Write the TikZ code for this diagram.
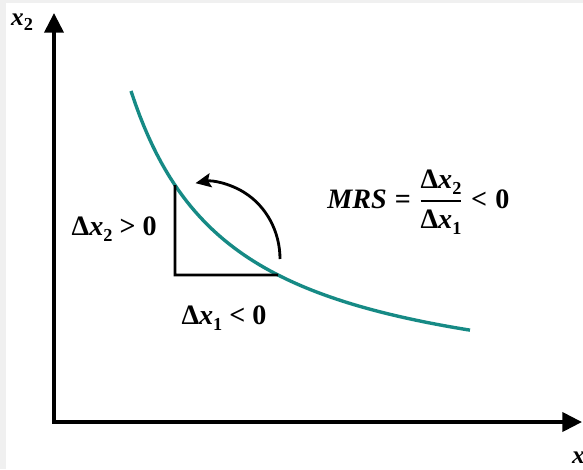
\documentclass[tikz,border=0pt]{standalone}
\usepackage{amsmath}
\usepackage{fontspec}
\setmainfont{Liberation Serif}
\usetikzlibrary{arrows.meta}
\definecolor{corbaverda}{RGB}{22,138,133}
\newcommand{\subind}[1]{\raisebox{-0.45ex}{\fontsize{13}{13}\selectfont\upshape #1}}

\begin{document}
\begin{tikzpicture}[x=0.025cm, y=0.025cm,
    eix/.style={line width=2.8pt, line join=miter,
        {Triangle[length=14pt, width=13.5pt]}-{Triangle[length=14pt, width=13.5pt]}},
    corba/.style={line width=2.4pt, corbaverda},
    triangle/.style={line width=2pt, black},
    fletxa/.style={line width=2pt, -{Stealth[length=11pt, width=10pt, inset=2pt]}},
    etiq/.style={font=\fontsize{20}{22}\selectfont\bfseries, inner sep=0pt}]
    % FONS (marge gris a l'esquerra i a dalt)
    \useasboundingbox (0,0) rectangle (583,469);
    \fill[gray!12] (0,0) rectangle (583,469);
    \fill[white] (6,0) rectangle (583,466);
    \clip (0,0) rectangle (583,469);

    % EIXOS
    \coordinate (O) at (54,47);
    \coordinate (Ytip) at (54,456);
    \coordinate (Xtip) at (582,47);
    \draw[eix] (Ytip) -- (O) -- (Xtip);
    \node[etiq, font=\fontsize{18}{20}\selectfont\bfseries] (x2) at (22,447) {\itshape x\subind{2}};
    \node[etiq, font=\fontsize{18}{20}\selectfont\bfseries] (x1) at (583,9) {\itshape x\subind{1}};

    % CORBA D'INDIFERÈNCIA
    \draw[corba] plot[domain=131:470, samples=80] (\x, {67.6+313.5/((\x-30)/100)});

    % TRIANGLE (punts sobre la corba)
    \coordinate (A) at (175, {67.6+313.5/1.45});
    \coordinate (B) at (175, 194);
    \coordinate (C) at (278, {67.6+313.5/2.48});
    \draw[triangle] (A) -- (B) -- (C);

    % FLETXA DE GIR
    \coordinate (Inici) at (280,210);
    \draw[fletxa] (Inici) arc[start angle=0, end angle=100, x radius=72, y radius=77];

    % ETIQUETES
    \node[etiq, anchor=east] (dx2) at (157,240) {Δ\textit{x}\subind{2} > 0};
    \node[etiq] (dx1) at (224,151) {Δ\textit{x}\subind{1} < 0};
    \node[etiq, anchor=west] (mrs) at (327,267)
        {$\mbox{\itshape MRS}\mathrel{\mbox{=}}
          \genfrac{}{}{1.2pt}{0}{\mbox{Δ\textit{x}\subind{2}}}{\mbox{Δ\textit{x}\subind{1}}}
          \mathrel{\mbox{<}}\mbox{0}$};
\end{tikzpicture}
\end{document}
